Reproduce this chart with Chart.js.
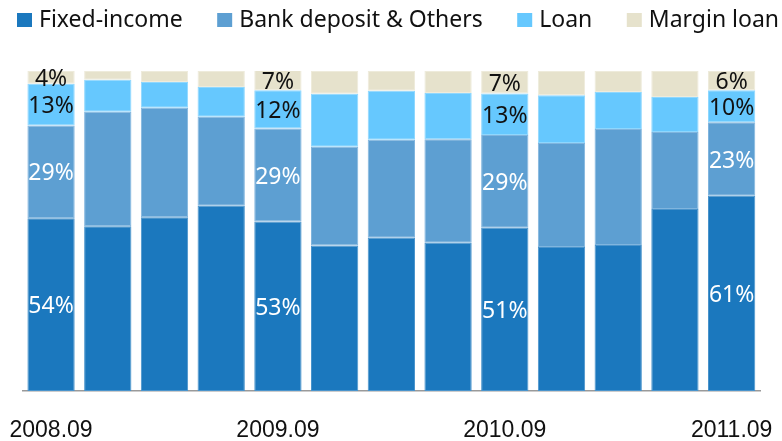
<!DOCTYPE html>
<html>
<head>
<meta charset="utf-8">
<script src="https://cdn.jsdelivr.net/npm/chart.js@4/dist/chart.umd.min.js"></script>
<style>
  html, body { margin: 0; padding: 0; background: #ffffff; }
  #wrap { width: 782px; height: 441px; position: relative; }
</style>
</head>
<body>
<div id="wrap"><canvas id="c" width="782" height="441"></canvas></div>
<script>
// Quarter-end periods
const categories = ['2008.09', '2008.12', '2009.03', '2009.06', '2009.09', '2009.12',
                    '2010.03', '2010.06', '2010.09', '2010.12', '2011.03', '2011.06', '2011.09'];
// Periods whose tick label is printed
const shownTicks = ['2008.09', '2009.09', '2010.09', '2011.09'];

// Portfolio mix, % of total
const fixedIncome = [54, 51.5, 54.3, 57.9, 53, 45.5, 47.9, 46.3, 51, 45.0, 45.6, 56.9, 61];
const bankDeposit = [29, 35.8, 34.2, 27.8, 29, 30.8, 30.6, 32.4, 29, 32.5, 36.3, 24.0, 23];
const loan        = [13, 10.0,  8.1,  9.3, 12, 16.6, 15.3, 14.4, 13, 14.9, 11.5, 11.0, 10];
const marginLoan  = [ 4,  2.7,  3.4,  5.0,  7,  7.1,  6.2,  6.9,  7,  7.6,  6.6,  8.1,  6];

const seriesNames = ['Fixed-income', 'Bank deposit & Others', 'Loan', 'Margin loan'];

const fills   = ['#1b78be', '#5d9fd2', '#66c8fe', '#e6e2cc'];
const borders = ['#4a94cc', '#80b5de', '#8ed7fe', '#eeebdb'];
const labelColors = ['#ffffff', '#ffffff', '#111111', '#111111'];

const labelFont = '23px "Noto Sans", "Open Sans", sans-serif';

// Percent labels inside the segments of the annual bars
const valueLabels = {
  id: 'valueLabels',
  afterDatasetsDraw(chart) {
    const ctx = chart.ctx;
    const top = chart.chartArea.top;
    ctx.save();
    ctx.font = labelFont;
    ctx.textAlign = 'center';
    ctx.textBaseline = 'middle';
    chart.data.datasets.forEach((ds, di) => {
      const meta = chart.getDatasetMeta(di);
      meta.data.forEach((bar, i) => {
        if (!shownTicks.includes(categories[i])) return;
        const yTop = Math.max(bar.y, top);
        const yMid = (yTop + bar.base) / 2 + 2;
        ctx.fillStyle = labelColors[di];
        ctx.fillText(Math.round(ds.data[i]) + '%', bar.x, yMid);
      });
    });
    ctx.restore();
  }
};

// Legend row across the top
const topLegend = {
  id: 'topLegend',
  afterDraw(chart) {
    const ctx = chart.ctx;
    ctx.save();
    ctx.font = labelFont;
    ctx.textAlign = 'left';
    ctx.textBaseline = 'middle';
    let x = 17;
    chart.data.datasets.forEach((ds, di) => {
      ctx.fillStyle = fills[di];
      ctx.fillRect(x, 13, 15, 14);
      ctx.fillStyle = '#111111';
      const tx = x + 22;
      ctx.fillText(ds.label, tx, 20);
      x = tx + ctx.measureText(ds.label).width + 34.5;
    });
    ctx.restore();
  }
};

const datasets = [fixedIncome, bankDeposit, loan, marginLoan].map((vals, di) => ({
  label: seriesNames[di],
  data: vals,
  backgroundColor: fills[di],
  borderColor: borders[di],
  borderWidth: 1,
  borderSkipped: false,
  barPercentage: 0.834,
  categoryPercentage: 1.0
}));

new Chart(document.getElementById('c'), {
  type: 'bar',
  data: { labels: categories, datasets },
  options: {
    responsive: false,
    animation: false,
    devicePixelRatio: 1,
    layout: { padding: { left: 22.7, right: 22, top: 71, bottom: 0 } },
    plugins: {
      legend: { display: false },
      tooltip: { enabled: false },
      title: { display: false }
    },
    scales: {
      x: {
        stacked: true,
        grid: { display: false, drawTicks: false },
        border: { display: true, color: '#9a9a9a', width: 1.5 },
        ticks: {
          autoSkip: false,
          maxRotation: 0,
          padding: 30,
          color: '#111111',
          font: { family: '"Liberation Sans", Arial, sans-serif', size: 23, lineHeight: 0.8 },
          callback(value, index) {
            const name = categories[index];
            return shownTicks.includes(name) ? name : '';
          }
        },
        afterFit(scale) {
          // labels may overhang the plot edges; keep the plot full width
          scale.paddingLeft = 0;
          scale.paddingRight = 0;
          scale.height = 50;
        }
      },
      y: {
        stacked: true,
        display: false,
        min: 0,
        max: 100
      }
    }
  },
  plugins: [valueLabels, topLegend]
});
</script>
</body>
</html>
